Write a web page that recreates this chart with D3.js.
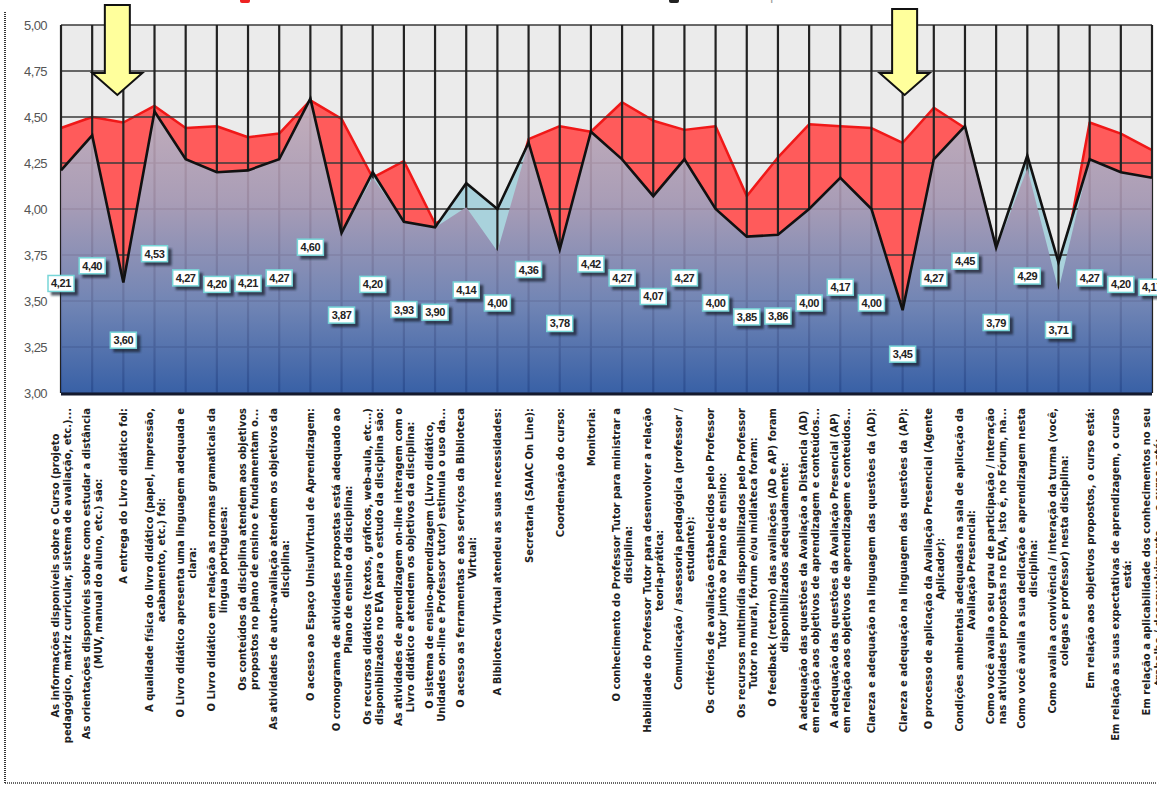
<!DOCTYPE html>
<html>
<head>
<meta charset="utf-8">
<script src="https://cdn.jsdelivr.net/npm/d3@7"></script>
<style>
  body { margin: 0; background: #fff; }
  svg { display: block; }
</style>
</head>
<body>
<div id="chart"></div>
<script>
// category labels ("|" = line break as in the original)
var categories = [
  "As informações disponíveis sobre o Curso (projeto|pedagógico, matriz curricular, sistema de avaliação, etc.)...",
  "As orientações disponíveis sobre como estudar a distância|(MUV, manual do aluno, etc.) são:",
  "A entrega do Livro didático foi:",
  "A qualidade física do livro didático (papel, impressão,|acabamento, etc.) foi:",
  "O Livro didático apresenta uma linguagem adequada e|clara:",
  "O Livro didático em relação as normas gramaticais da|língua portuguesa:",
  "Os conteúdos da disciplina atendem aos objetivos|propostos no plano de ensino e fundamentam o...",
  "As atividades de auto-avaliação atendem os objetivos da|disciplina:",
  "O acesso ao Espaço UnisulVirtual de Aprendizagem:",
  "O cronograma de atividades propostas está adequado ao|Plano de ensino da disciplina:",
  "Os recursos didáticos (textos, gráficos, web-aula, etc...)|disponibilizados no EVA para o estudo da disciplina são:",
  "As atividades de aprendizagem on-line interagem com o|Livro didático e atendem os objetivos da disciplina:",
  "O sistema de ensino-aprendizagem (Livro didático,|Unidades on-line e Professor tutor) estimula o uso da...",
  "O acesso as ferramentas e aos serviços da Biblioteca|Virtual:",
  "A Biblioteca Virtual atendeu as suas necessidades:",
  "Secretaria (SAIAC On Line):",
  "Coordenação do curso:",
  "Monitoria:",
  "O conhecimento do Professor Tutor para ministrar a|disciplina:",
  "Habilidade do Professor Tutor para desenvolver a relação|teoria-prática:",
  "Comunicação / assessoria pedagógica (professor /|estudante):",
  "Os critérios de avaliação estabelecidos pelo Professor|Tutor junto ao Plano de ensino:",
  "Os recursos multimídia disponibilizados pelo Professor|Tutor no mural, fórum e/ou midiateca foram:",
  "O feedback (retorno) das avaliações (AD e AP) foram|disponibilizados adequadamente:",
  "A adequação das questões da Avaliação a Distância (AD)|em relação aos objetivos de aprendizagem e conteúdos...",
  "A adequação das questões da Avaliação Presencial (AP)|em relação aos objetivos de aprendizagem e conteúdos...",
  "Clareza e adequação na linguagem das questões da (AD):",
  "Clareza e adequação na linguagem das questões da (AP):",
  "O processo de aplicação da Avaliação Presencial (Agente|Aplicador):",
  "Condições ambientais adequadas na sala de aplicação da|Avaliação Presencial:",
  "Como você avalia o seu grau de participação / interação|nas atividades propostas no EVA, isto é, no Fórum, na...",
  "Como você avalia a sua dedicação e aprendizagem nesta|disciplina:",
  "Como avalia a convivência / interação da turma (você,|colegas e professor) nesta disciplina:",
  "Em relação aos objetivos propostos, o curso está:",
  "Em relação as suas expectativas de aprendizagem, o curso|está:",
  "Em relação a aplicabilidade dos conhecimentos no seu|trabalho / desenvolvimento..., o curso está:"
];

// red series (course) and black-line series (discipline)
var cursoValues = [4.44, 4.50, 4.47, 4.56, 4.44, 4.45, 4.39, 4.41, 4.59, 4.49, 4.17, 4.26,
                   3.92, 4.01, 3.77, 4.38, 4.45, 4.42, 4.58, 4.48, 4.43, 4.45, 4.07, 4.28,
                   4.46, 4.45, 4.44, 4.36, 4.55, 4.44, 3.78, 4.22, 3.56, 4.47, 4.41, 4.32];
var disciplinaValues = [4.21, 4.40, 3.60, 4.53, 4.27, 4.20, 4.21, 4.27, 4.60, 3.87, 4.20, 3.93,
                        3.90, 4.14, 4.00, 4.36, 3.78, 4.42, 4.27, 4.07, 4.27, 4.00, 3.85, 3.86,
                        4.00, 4.17, 4.00, 3.45, 4.27, 4.45, 3.79, 4.29, 3.71, 4.27, 4.20, 4.17];
var yTicks = [3.00, 3.25, 3.50, 3.75, 4.00, 4.25, 4.50, 4.75, 5.00];
var legendNames = ["Média do Curso", "Média da Disciplina"];
var arrowCats = [2, 27];

var W = 1157, H = 793;
var plot = { left: 61, right: 1152, top: 25, bottom: 393 };

var ptBR = d3.formatLocale({ decimal: ",", thousands: ".", grouping: [3], currency: ["R$", ""] });
var fmt = ptBR.format(".2f");

var data = categories.map(function(c, i){
    return { cat: c, r: cursoValues[i], b: disciplinaValues[i] };
});

var x = d3.scalePoint().domain(categories).range([plot.left, plot.right]);
var y = d3.scaleLinear().domain([3, 5]).range([plot.bottom, plot.top]);
// data labels sit on a compressed scale under the points
var yLab = d3.scaleLinear().domain([3, 5]).range([396, 210]);

var svg = d3.select("#chart").append("svg")
    .attr("width", W).attr("height", H);

var defs = svg.append("defs");
var grad = defs.append("linearGradient")
    .attr("id", "areaGrad")
    .attr("gradientUnits", "userSpaceOnUse")
    .attr("x1", 0).attr("x2", 0)
    .attr("y1", y(4.6)).attr("y2", y(3));
[[0, "#c8abb8"], [0.35, "#a997b2"], [0.7, "#6a7cb0"], [1, "#2c54a0"]].forEach(function(s){
    grad.append("stop").attr("offset", s[0]).attr("stop-color", s[1]);
});
var shadow = defs.append("filter").attr("id", "blur");
shadow.append("feGaussianBlur").attr("stdDeviation", 1.2);

// outer dotted frame
svg.append("line").attr("x1", 5).attr("x2", 5).attr("y1", 12).attr("y2", 783)
    .attr("stroke", "#333").attr("stroke-width", 2).attr("stroke-dasharray", "1,1");
svg.append("line").attr("x1", 5).attr("x2", W).attr("y1", 783).attr("y2", 783)
    .attr("stroke", "#333").attr("stroke-width", 1.5).attr("stroke-dasharray", "1,1");

// legend (cut off at the top in the original)
var legend = svg.append("g").attr("font-family", "Liberation Sans, Arial, sans-serif")
    .attr("font-size", 13).attr("fill", "#999");
legend.append("rect").attr("x", 240).attr("y", -5).attr("width", 10).attr("height", 8)
    .attr("fill", "#e22").attr("rx", 2);
legend.append("text").attr("x", 256).attr("y", 0).text(legendNames[0]);
legend.append("rect").attr("x", 669).attr("y", -5).attr("width", 10).attr("height", 8)
    .attr("fill", "#222").attr("rx", 2);
legend.append("text").attr("x", 685).attr("y", 0).text(legendNames[1]);

// plot background
svg.append("rect")
    .attr("x", plot.left).attr("y", plot.top)
    .attr("width", plot.right - plot.left).attr("height", plot.bottom - plot.top)
    .attr("fill", "#ebebeb");

var areaR = d3.area().x(function(d){ return x(d.cat); }).y0(y(3)).y1(function(d){ return y(d.r); });
var areaB = d3.area().x(function(d){ return x(d.cat); }).y0(y(3)).y1(function(d){ return y(d.b); });
var areaMin = d3.area().x(function(d){ return x(d.cat); }).y0(y(3))
    .y1(function(d){ return y(Math.min(d.r, d.b)); });
var lineR = d3.line().x(function(d){ return x(d.cat); }).y(function(d){ return y(d.r); });
var lineB = d3.line().x(function(d){ return x(d.cat); }).y(function(d){ return y(d.b); });

svg.append("path").datum(data).attr("d", areaR).attr("fill", "#ff5b5b");
svg.append("path").datum(data).attr("d", lineR)
    .attr("fill", "none").attr("stroke", "#f01818").attr("stroke-width", 2.5)
    .attr("stroke-linejoin", "round");
svg.append("path").datum(data).attr("d", areaB).attr("fill", "#a9d2dc");

// grid
var grid = svg.append("g").attr("stroke", "#222");
grid.selectAll("line.h").data(yTicks).enter().append("line")
    .attr("x1", plot.left).attr("x2", plot.right)
    .attr("y1", function(d){ return y(d); }).attr("y2", function(d){ return y(d); })
    .attr("stroke-width", 1.4).attr("stroke", "#3a3a3a");
grid.selectAll("line.v").data(categories).enter().append("line")
    .attr("x1", function(d){ return x(d); }).attr("x2", function(d){ return x(d); })
    .attr("y1", plot.top).attr("y2", plot.bottom)
    .attr("stroke-width", 2.2);

svg.append("path").datum(data).attr("d", areaMin)
    .attr("fill", "url(#areaGrad)").attr("opacity", 0.9);

svg.append("path").datum(data).attr("d", lineB)
    .attr("fill", "none").attr("stroke", "#111").attr("stroke-width", 2.6)
    .attr("stroke-linejoin", "miter");

// bottom axis line
svg.append("line").attr("x1", plot.left).attr("x2", plot.right)
    .attr("y1", plot.bottom + 1).attr("y2", plot.bottom + 1)
    .attr("stroke", "#141a2e").attr("stroke-width", 3);

// y axis labels
svg.append("g").selectAll("text").data(yTicks).enter().append("text")
    .attr("x", 47).attr("y", function(d){ return y(d) + 5; })
    .attr("text-anchor", "end")
    .attr("font-family", "Liberation Sans, Arial, sans-serif")
    .attr("font-size", 13).attr("letter-spacing", -0.6).attr("fill", "#555")
    .text(function(d){ return fmt(d); });

// x labels, rotated, block top-aligned under the axis, lines centered
var xl = svg.append("g")
    .attr("font-family", "DejaVu Sans, sans-serif")
    .attr("font-weight", "bold").attr("font-size", 10).attr("fill", "#1e1e1e");
categories.forEach(function(c){
    var lines = c.split("|");
    var g = xl.append("g")
        .attr("transform", "translate(" + x(c) + "," + 408 + ") rotate(-90)");
    var texts = lines.map(function(l, i){
        return g.append("text")
            .attr("y", (i - (lines.length - 1) / 2) * 12 + 4)
            .attr("text-anchor", "middle")
            .text(l);
    });
    var maxW = d3.max(texts, function(t){ return t.node().getComputedTextLength(); });
    texts.forEach(function(t){ t.attr("x", -maxW / 2); });
});

// data labels
var labels = svg.append("g");
data.forEach(function(d){
    var cx = x(d.cat), cy = yLab(d.b);
    var g = labels.append("g").attr("transform", "translate(" + cx + "," + cy + ")");
    g.append("rect").attr("x", -10).attr("y", -5).attr("width", 27).attr("height", 17)
        .attr("fill", "#1b2233").attr("opacity", 0.75).attr("filter", "url(#blur)");
    g.append("rect").attr("x", -13).attr("y", -8).attr("width", 26).attr("height", 16)
        .attr("fill", "#fff").attr("stroke", "#78d6d8").attr("stroke-width", 1.5);
    g.append("text").attr("y", 4).attr("text-anchor", "middle")
        .attr("font-family", "Liberation Sans, Arial, sans-serif")
        .attr("font-weight", "bold").attr("font-size", 11).attr("letter-spacing", -0.4)
        .attr("fill", "#222")
        .text(fmt(d.b));
});

// yellow arrows
arrowCats.forEach(function(i, k){
    var tx = x(categories[i]) + (k === 0 ? -6 : 2), ty = y(4.62);
    var sw = 12.5, hw = 25, hh = 22, top = 5 + k * 4;
    var p = d3.path();
    p.moveTo(tx - sw, top);
    p.lineTo(tx + sw, top);
    p.lineTo(tx + sw, ty - hh);
    p.lineTo(tx + hw, ty - hh);
    p.lineTo(tx, ty);
    p.lineTo(tx - hw, ty - hh);
    p.lineTo(tx - sw, ty - hh);
    p.closePath();
    svg.append("path").attr("d", p.toString())
        .attr("fill", "#ffff9c").attr("stroke", "#111").attr("stroke-width", 2)
        .attr("stroke-linejoin", "miter");
});
</script>
</body>
</html>
